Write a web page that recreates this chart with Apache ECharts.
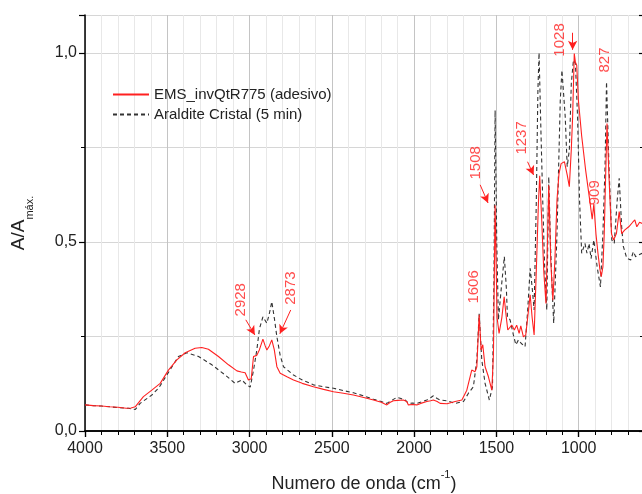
<!DOCTYPE html>
<html><head><meta charset="utf-8">
<script src="https://cdn.jsdelivr.net/npm/echarts@6/dist/echarts.min.js"></script>
<style>html,body{margin:0;padding:0;background:#fff}#c{width:642px;height:494px}</style>
</head><body><div id="c"></div>
<script>
// Red series: EMS_invQtR775 (adesivo)
const redX = [4000,3950,3900,3850,3800,3750,3720,3695,3645,3594,3543,3493,3442,3391,3331,3290,3250,3189,3128,3077,3050,3027,3007,2990,2976,2956,2940,2919,2905,2895,2880,2865,2850,2834,2814,2770,2733,2680,2612,2550,2490,2430,2369,2300,2247,2200,2166,2145,2126,2100,2065,2045,2035,2010,1984,1960,1923,1900,1883,1860,1842,1800,1751,1710,1680,1650,1630,1619,1605,1593,1583,1569,1549,1528,1518,1508,1496,1484,1467,1453,1440,1431,1407,1391,1377,1362,1352,1336,1322,1310,1295,1283,1271,1258,1245,1237,1225,1212,1199,1190,1182,1170,1157,1145,1132,1120,1107,1087,1070,1057,1045,1037,1027,1020,1012,1002,982,958,933,918,908,895,883,872,863,853,845,838,828,816,801,788,771,754,739,721,696,672,659,647,630,615];
const redY = [.069,.067,.066,.064,.063,.060,.061,.064,.091,.108,.126,.161,.188,.207,.219,.221,.216,.197,.175,.159,.156,.154,.135,.138,.197,.200,.215,.243,.225,.214,.225,.241,.215,.170,.153,.143,.135,.126,.117,.110,.104,.100,.095,.088,.082,.076,.069,.076,.080,.081,.082,.078,.069,.070,.069,.073,.078,.080,.082,.078,.073,.072,.078,.082,.108,.161,.157,.170,.307,.214,.228,.170,.144,.108,.205,.597,.300,.258,.300,.355,.300,.267,.280,.267,.280,.258,.278,.249,.254,.300,.360,.300,.254,.420,.600,.675,.560,.420,.337,.500,.650,.450,.346,.450,.611,.680,.707,.712,.677,.646,.745,.831,.998,.975,.967,.875,.780,.690,.610,.560,.600,.520,.470,.430,.408,.434,.520,.646,.813,.672,.522,.505,.522,.580,.522,.531,.540,.552,.558,.540,.552,.549];
// Black dashed series: Araldite Cristal (5 min)
const blackX = [4000,3950,3900,3850,3800,3736,3694,3665,3594,3550,3503,3432,3381,3310,3229,3148,3088,3047,3017,2996,2976,2956,2940,2919,2895,2880,2865,2850,2834,2814,2794,2733,2680,2612,2550,2490,2430,2369,2300,2247,2200,2166,2140,2105,2080,2055,2035,2010,1984,1950,1923,1900,1883,1860,1842,1800,1751,1700,1670,1640,1619,1605,1589,1569,1543,1524,1515,1508,1498,1488,1470,1452,1440,1433,1417,1397,1382,1366,1350,1326,1310,1295,1283,1271,1258,1248,1241,1230,1218,1207,1194,1182,1172,1162,1152,1142,1132,1112,1102,1082,1070,1057,1045,1032,1020,1007,995,982,962,950,937,925,908,888,868,860,853,840,831,816,799,784,766,754,739,729,708,684,668,654,615];
const blackY = [.069,.067,.066,.064,.062,.060,.057,.073,.095,.115,.148,.197,.207,.197,.175,.148,.126,.135,.122,.116,.161,.214,.270,.302,.285,.310,.342,.300,.249,.200,.170,.148,.135,.122,.117,.113,.107,.101,.092,.084,.078,.073,.080,.089,.086,.082,.073,.074,.073,.078,.082,.088,.093,.086,.082,.080,.073,.078,.100,.117,.188,.310,.188,.126,.082,.117,.400,.848,.500,.294,.380,.461,.380,.302,.294,.254,.228,.241,.232,.223,.320,.430,.380,.320,.600,.900,1.0,.800,.600,.434,.320,.672,.500,.381,.285,.400,.522,.875,.954,.831,.699,.743,.919,.981,.972,.831,.611,.470,.496,.470,.496,.456,.505,.434,.381,.378,.522,.700,.923,.699,.505,.496,.611,.668,.540,.488,.457,.452,.474,.461,.470];
// Peak annotations
const peakLabels = ['2928','2873','1606','1508','1237','1028','909','827'];
const peakLabelX = [3052,2749,1637,1623,1344,1114,901,840];
const peakLabelY = [.347,.378,.381,.709,.775,1.034,.630,.981];
const arrowFromX = [3023,2750,1599,1311,1037];
const arrowFromY = [.294,.320,.651,.712,1.053];
const arrowToX = [2968,2816,1551,1274,1037];
const arrowToY = [.254,.257,.603,.677,1.008];
const xTicks = [1000,1500,2000,2500,3000,3500,4000];
const seriesNames = ['EMS_invQtR775 (adesivo)','Araldite Cristal (5 min)'];

const FONT = "'Liberation Sans', Arial, sans-serif";
const zip = (a,b) => a.map((v,i)=>[v,b[i]]);
const chart = echarts.init(document.getElementById('c'), null, {renderer:'canvas'});
const axisLine = {show:true, lineStyle:{color:'#000', width:1.5}};
chart.setOption({
  animation:false,
  backgroundColor:'#fff',
  textStyle:{fontFamily:FONT},
  grid:{left:85, top:15, right:-19, bottom:63, containLabel:false, outerBoundsMode:'none'},
  legend:{
    data:seriesNames, orient:'vertical', left:107, top:82,
    itemWidth:36, itemHeight:14, itemGap:5,
    itemStyle:{opacity:0},
    textStyle:{fontFamily:FONT, fontSize:15, color:'#222'}
  },
  xAxis:[{
    type:'value', inverse:true, min:500, max:4000, interval:500,
    position:'bottom',
    axisLine:axisLine,
    axisTick:{show:true, inside:false, length:6, lineStyle:{color:'#000', width:1.2}},
    minorTick:{show:true, splitNumber:5, length:4, lineStyle:{color:'#000', width:1}},
    axisLabel:{fontFamily:FONT, fontSize:16, color:'#222', margin:10,
      formatter:v => xTicks.indexOf(v) >= 0 ? String(v) : ''},
    splitLine:{show:true, lineStyle:{color:'#c4c4c4', width:1}},
    minorSplitLine:{show:true, lineStyle:{color:'#e8e8e8', width:1}},
    name:'{t|Numero de onda (cm}{sup|-1}{t|)}',
    nameLocation:'middle', nameGap:38,
    nameTextStyle:{fontFamily:FONT, fontSize:18, color:'#222', padding:[0,18,0,0],
      rich:{
        t:{fontFamily:FONT, fontSize:18, color:'#222', lineHeight:24, verticalAlign:'bottom'},
        sup:{fontFamily:FONT, fontSize:11, color:'#222', lineHeight:24, verticalAlign:'top'}
      }}
  },{
    type:'value', inverse:true, min:500, max:4000, interval:500,
    position:'top',
    axisLine:axisLine,
    axisTick:{show:true, inside:true, length:6, lineStyle:{color:'#000', width:1.2}},
    minorTick:{show:true, splitNumber:5, length:4, lineStyle:{color:'#000', width:1}},
    axisLabel:{show:false}, splitLine:{show:false}
  }],
  yAxis:[{
    type:'value', min:0, max:1.1, interval:0.5,
    axisLine:axisLine,
    axisTick:{show:true, inside:false, length:6, lineStyle:{color:'#000', width:1.2}},
    minorTick:{show:true, splitNumber:2, length:4, lineStyle:{color:'#000', width:1}},
    axisLabel:{fontFamily:FONT, fontSize:16, color:'#222', margin:8, showMaxLabel:false,
      formatter:v => (Math.abs(v*2 - Math.round(v*2)) < 1e-6 && v <= 1.0001) ? v.toFixed(1).replace('.', ',') : ''},
    splitLine:{show:true, lineStyle:{color:'#d6d6d6', width:1}},
    minorSplitLine:{show:true, lineStyle:{color:'#d6d6d6', width:1}},
    name:'{t|A/A}{sub|máx.}',
    nameLocation:'middle', nameGap:50, nameRotate:90,
    nameTextStyle:{fontFamily:FONT, fontSize:19, color:'#222',
      rich:{
        t:{fontFamily:FONT, fontSize:19, color:'#222', lineHeight:26, verticalAlign:'top'},
        sub:{fontFamily:FONT, fontSize:11, color:'#222', lineHeight:26, verticalAlign:'bottom'}
      }}
  },{
    type:'value', min:0, max:1.1, interval:0.5, position:'right', offset:-17,
    axisLine:axisLine,
    axisTick:{show:true, inside:true, length:5, lineStyle:{color:'#000', width:1.2}},
    minorTick:{show:true, splitNumber:2, length:4, lineStyle:{color:'#000', width:1}},
    axisLabel:{show:false}, splitLine:{show:false}
  }],
  series:[{
    name:seriesNames[1], type:'line', data:zip(blackX, blackY), symbol:'none',
    lineStyle:{color:'#333', width:1.1, type:[4,3]}, itemStyle:{color:'#333'}, z:2
  },{
    name:seriesNames[0], type:'line', data:zip(redX, redY), symbol:'none',
    lineStyle:{color:'#ff2020', width:1.1}, itemStyle:{color:'#ff2020'}, z:3
  },{
    name:'peaks', type:'scatter', symbolSize:0, z:5,
    data:peakLabels.map((t,i)=>({value:[peakLabelX[i], peakLabelY[i]], name:t})),
    label:{show:true, position:'inside', rotate:90, formatter:p=>p.name,
      fontFamily:FONT, fontSize:15, color:'#ff2020', align:'center', verticalAlign:'middle'},
    markLine:{
      silent:true, symbol:['none','arrow'], symbolSize:[7,9], animation:false,
      label:{show:false},
      lineStyle:{color:'#ff2020', width:1, type:'solid'},
      data:arrowFromX.map((x,i)=>[{coord:[x, arrowFromY[i]]},{coord:[arrowToX[i], arrowToY[i]]}])
    }
  }]
});
</script></body></html>
